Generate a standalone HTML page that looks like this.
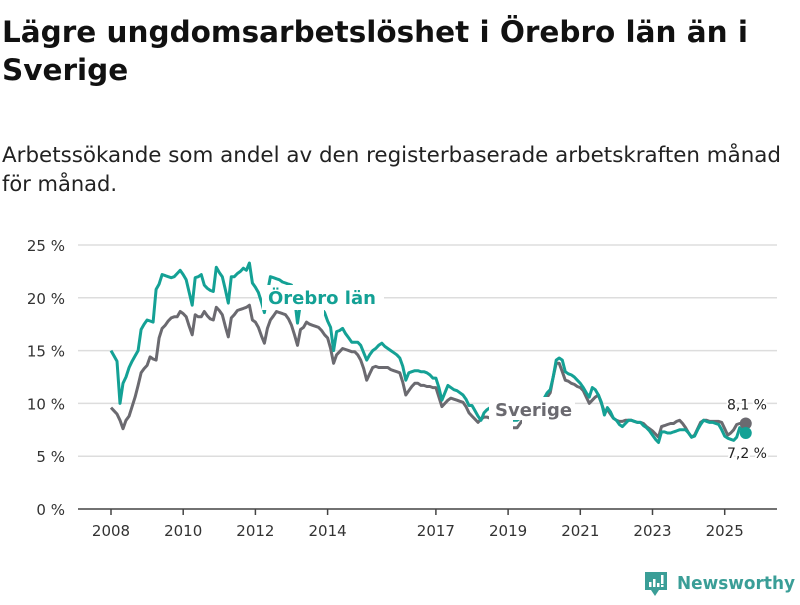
<!DOCTYPE html>
<html><head><meta charset="utf-8">
<style>
html,body{margin:0;padding:0;background:#fff;}
body{width:800px;height:600px;overflow:hidden;font-family:"Liberation Sans","DejaVu Sans",sans-serif;}
svg text{font-family:"DejaVu Sans","Liberation Sans",sans-serif;}
</style></head>
<body>
<svg id="chart" width="800" height="600" xmlns="http://www.w3.org/2000/svg">
<text x="2" y="42" font-size="29.5" font-weight="bold" fill="#111" textLength="746" lengthAdjust="spacingAndGlyphs">Lägre ungdomsarbetslöshet i Örebro län än i</text>
<text x="2" y="80" font-size="29.5" font-weight="bold" fill="#111">Sverige</text>
<text x="2" y="162" font-size="21" fill="#222" textLength="779" lengthAdjust="spacingAndGlyphs">Arbetssökande som andel av den registerbaserade arbetskraften månad</text>
<text x="2" y="191" font-size="21" fill="#222">för månad.</text>
<g id="grid"></g>
<g id="lines"></g>
<g id="labels"></g>
<g>
<path d="M645,572 h22 v18 h-8 l-4,6 l-4,-6 h-6 z" fill="#3a9e97"/>
<rect x="649" y="582" width="2.5" height="5" fill="#fff"/>
<rect x="653" y="579" width="2.5" height="8" fill="#fff"/>
<rect x="657" y="583" width="2.5" height="4" fill="#fff"/>
<rect x="661" y="575" width="2.5" height="9" fill="#fff"/>
<rect x="661" y="585" width="2.5" height="2" fill="#fff"/>
<text x="677" y="589" font-size="18" font-weight="bold" fill="#3a9e97" textLength="118" lengthAdjust="spacingAndGlyphs">Newsworthy</text>
</g>
</svg>
<script>
const years = [2008,2010,2012,2014,2017,2019,2021,2023,2025];
const yTicks = [0,5,10,15,20,25];
const orebro = [
15.0,14.5,14.0,10.0,11.9,12.5,13.4,14.0,14.5,15.0,17.0,17.5,
17.9,17.8,17.7,20.8,21.3,22.2,22.1,22.0,21.9,22.0,22.3,22.6,
22.2,21.7,20.5,19.3,21.9,22.0,22.2,21.2,20.9,20.7,20.6,22.9,
22.4,22.0,20.8,19.5,22.0,22.0,22.3,22.5,22.8,22.6,23.3,21.4,
21.0,20.5,19.6,18.6,20.5,22.0,21.9,21.8,21.7,21.5,21.4,21.3,
21.2,20.0,17.6,19.5,20.0,20.2,20.3,20.2,20.0,19.6,19.0,18.6,
17.8,17.2,15.0,16.8,16.9,17.1,16.6,16.2,15.8,15.8,15.8,15.5,
14.8,14.1,14.6,15.0,15.2,15.5,15.7,15.4,15.2,15.0,14.8,14.6,
14.3,13.5,12.2,12.9,13.0,13.1,13.1,13.0,13.0,12.9,12.7,12.4,
12.4,11.5,10.3,11.0,11.7,11.5,11.3,11.2,11.0,10.8,10.4,9.8,
9.8,9.3,8.8,8.4,9.1,9.4,9.6,9.4,9.2,9.0,8.8,8.6,
8.5,8.4,8.4,8.4,8.6,8.9,9.1,9.4,9.7,9.9,10.1,10.3,
10.5,11.0,11.3,12.5,14.1,14.3,14.1,13.0,12.8,12.7,12.5,12.2,
11.9,11.5,11.0,10.6,11.5,11.3,10.8,10.1,8.9,9.6,9.2,8.6,
8.4,8.0,7.8,8.1,8.4,8.4,8.3,8.2,8.2,7.9,7.7,7.4,
7.0,6.6,6.3,7.3,7.3,7.2,7.2,7.3,7.4,7.5,7.5,7.5,
7.2,6.8,6.9,7.5,8.0,8.4,8.3,8.2,8.2,8.1,8.0,7.5,
6.9,6.7,6.6,6.5,6.8,7.7,7.4,7.2];
const sverige = [
9.6,9.3,9.0,8.4,7.6,8.4,8.8,9.7,10.6,11.7,12.9,13.3,
13.6,14.4,14.2,14.1,16.2,17.1,17.4,17.8,18.1,18.2,18.2,18.7,
18.5,18.2,17.3,16.5,18.4,18.2,18.2,18.7,18.3,18.0,17.9,19.1,
18.8,18.4,17.3,16.3,18.1,18.4,18.8,18.9,19.0,19.1,19.3,17.9,
17.7,17.2,16.4,15.7,17.1,17.9,18.3,18.7,18.6,18.5,18.4,18.0,
17.4,16.5,15.5,17.0,17.2,17.7,17.5,17.4,17.3,17.2,16.9,16.5,
16.2,15.2,13.8,14.6,14.9,15.2,15.1,15.0,14.9,14.9,14.6,14.1,
13.3,12.2,12.8,13.4,13.5,13.4,13.4,13.4,13.4,13.2,13.1,13.0,
12.9,12.0,10.8,11.2,11.6,11.9,11.9,11.7,11.7,11.6,11.6,11.5,
11.5,10.6,9.7,10.0,10.3,10.5,10.4,10.3,10.2,10.1,9.7,9.1,
8.8,8.5,8.2,8.5,8.7,8.7,8.6,8.4,8.2,8.0,7.9,7.8,
7.8,7.7,7.7,7.7,8.1,8.5,8.9,9.3,9.7,10.0,10.2,10.3,
10.3,10.6,11.0,12.5,13.8,13.8,13.0,12.2,12.1,11.9,11.8,11.6,
11.5,11.2,10.6,10.0,10.3,10.6,10.8,10.0,9.2,9.4,9.0,8.6,
8.4,8.3,8.3,8.4,8.4,8.4,8.3,8.2,8.2,8.1,7.8,7.6,
7.4,7.1,6.8,7.8,7.9,8.0,8.1,8.1,8.3,8.4,8.1,7.7,
7.2,6.8,7.0,7.6,8.2,8.4,8.4,8.3,8.3,8.3,8.3,8.2,
7.6,7.0,7.2,7.5,8.0,8.1,8.1,8.1];
const endLabels = ["8,1 %","7,2 %"];

const NS="http://www.w3.org/2000/svg";
function xYear(y){return 111+(y-2008)*36.1;}
function xIdx(i){return xYear(2008+i/12);}
function yVal(v){return 509-v*10.56;}
function mk(tag,attrs,parent){const e=document.createElementNS(NS,tag);for(const k in attrs)e.setAttribute(k,attrs[k]);parent.appendChild(e);return e;}
const grid=document.getElementById('grid'),lines=document.getElementById('lines'),labels=document.getElementById('labels');

yTicks.forEach(t=>{
  if(t>0){const l=mk('line',{x1:78,x2:777,y1:yVal(t),y2:yVal(t),stroke:'#ddd','stroke-width':1.5},grid);
  
  }
  const tx=mk('text',{x:65,y:yVal(t)+6,'font-size':15,'text-anchor':'end',fill:'#333'},grid);
  tx.textContent=t+' %';
  
  
});
const ax=mk('line',{x1:78,x2:777,y1:509,y2:509,stroke:'#444','stroke-width':1.5},grid);


years.forEach(yr=>{
  const tk=mk('line',{x1:xYear(yr),x2:xYear(yr),y1:509,y2:515,stroke:'#444','stroke-width':1.5},grid);
  
  
  const tx=mk('text',{x:xYear(yr),y:536,'font-size':15,'text-anchor':'middle',fill:'#333'},grid);
  tx.textContent=yr;
  
  
});
function path(arr){return arr.map((v,i)=>(i?'L':'M')+xIdx(i).toFixed(1)+','+yVal(v).toFixed(1)).join('');}
const gp=mk('path',{d:path(sverige),fill:'none',stroke:'#6b6a70','stroke-width':3,'stroke-linejoin':'round'},lines);


const tp=mk('path',{d:path(orebro),fill:'none',stroke:'#14a195','stroke-width':3,'stroke-linejoin':'round'},lines);


const n=orebro.length-1;
const gd=mk('circle',{cx:xIdx(n),cy:yVal(sverige[n]),r:6,fill:'#6b6a70'},lines);


const td=mk('circle',{cx:xIdx(n),cy:yVal(orebro[n]),r:6,fill:'#14a195'},lines);


const l1=mk('text',{x:767,y:yVal(sverige[n])-14,'font-size':14,'text-anchor':'end',fill:'#222',stroke:'#fff','stroke-width':4,'paint-order':'stroke'},labels);
l1.textContent=endLabels[0];


const l2=mk('text',{x:767,y:yVal(orebro[n])+25,'font-size':14,'text-anchor':'end',fill:'#222',stroke:'#fff','stroke-width':4,'paint-order':'stroke'},labels);
l2.textContent=endLabels[1];


// series labels with white halo
const r1=mk('rect',{x:262,y:285,width:122,height:25,fill:'#fff'},labels);


const r1b=mk('rect',{x:304,y:285,width:20,height:30,fill:'#fff'},labels);


const s1=mk('text',{x:268,y:304,'font-size':18,'font-weight':'bold',fill:'#14a195'},labels);
s1.textContent='Örebro län';


const r2=mk('rect',{x:489,y:397,width:86,height:23,fill:'#fff'},labels);


const r2b=mk('rect',{x:489,y:397,width:24,height:36,fill:'#fff'},labels);


const r2c=mk('rect',{x:522,y:397,width:26,height:36,fill:'#fff'},labels);


const s2=mk('text',{x:495,y:416,'font-size':18,'font-weight':'bold',fill:'#6b6a70'},labels);
s2.textContent='Sverige';


</script>
</body></html>
